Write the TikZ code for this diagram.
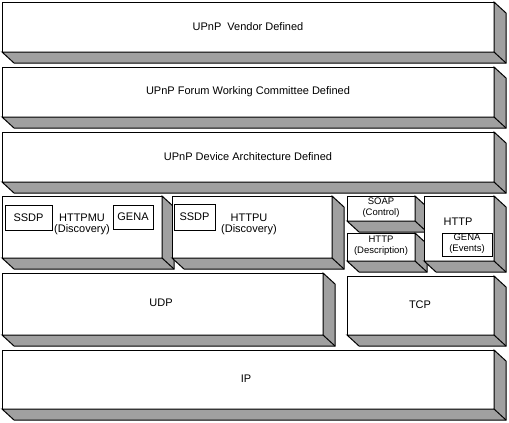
\documentclass[tikz,border=0pt]{standalone}
\usepackage{fontspec}
\setmainfont{Liberation Sans}
\usetikzlibrary{calc}
\definecolor{sidegray}{RGB}{160,160,160}
\tikzset{
  x=1pt, y=-1pt,
  front/.style={draw=black, fill=white, line width=1pt, inner sep=0pt, outer sep=0pt,
    rectangle, font=\fontsize{11}{11}\selectfont, align=center},
  side/.style={draw=black, fill=sidegray, line width=1pt, line join=miter},
  edge3d/.style={draw=black, line width=1pt},
  ibox/.style={draw=black, fill=white, line width=1pt, inner sep=0pt, outer sep=0pt,
    rectangle, font=\fontsize{11}{11}\selectfont, align=center},
  lbl/.style={font=\fontsize{11}{11}\selectfont, align=center, inner sep=0pt},
  small/.style={font=\fontsize{9.5}{11}\selectfont, align=center, inner sep=0pt}
}
% #1 name, #2 x1, #3 y1, #4 x2, #5 y2, #6 text
\newcommand\slab[6]{%
  \node[front, minimum width={(#4-#2)*1pt}, minimum height={(#5-#3)*1pt}] (#1)
    at ({(#2+#4)/2},{(#3+#5)/2}) {#6};
  \filldraw[side] (#1.north east) -- ($(#1.north east)+(12,11)$)
    -- ($(#1.south east)+(12,11)$) -- ($(#1.south west)+(12,11)$)
    -- (#1.south west) -- (#1.south east) -- cycle;
  \draw[edge3d] (#1.south east) -- ($(#1.south east)+(12,11)$);
}
% #1 name, #2 x1, #3 y1, #4 x2, #5 y2, #6 text
\newcommand\inbox[6]{%
  \node[ibox, minimum width={(#4-#2)*1pt}, minimum height={(#5-#3)*1pt}] (#1)
    at ({(#2+#4)/2},{(#3+#5)/2}) {#6};
}
\begin{document}
\begin{tikzpicture}
\useasboundingbox (0,0) rectangle (509,423);
\fill[white] (0,0) rectangle (509,423);

\slab{vendor}{2}{2}{494}{52}{UPnP\ \ Vendor Defined}
\slab{forum}{2}{67}{494}{117}{UPnP Forum Working Committee Defined}
\slab{devarch}{2}{132}{494}{182}{UPnP Device Architecture Defined}

\slab{httpmu}{2}{196}{162}{258}{}
\node[lbl] (httpmulbl) at (82,224) {HTTPMU\\(Discovery)};
\inbox{ssdpa}{5}{205}{52}{230}{SSDP}
\inbox{genaa}{113}{205}{153}{229}{GENA}

\slab{httpu}{172}{196}{332}{258}{}
\node[lbl] (httpulbl) at (249,224) {HTTPU\\(Discovery)};
\inbox{ssdpb}{174}{204}{215}{230}{SSDP}

\slab{soap}{347}{196}{415}{221}{}
\node[small] (soaplbl) at (381,207.5) {SOAP\\(Control)};
\slab{httpdesc}{347}{233}{415}{261}{}
\node[small] (httpdesclbl) at (381,245.5) {HTTP\\(Description)};

\slab{http}{424}{196}{494}{261}{}
\node[lbl] (httplbl) at (458,222) {HTTP};
\inbox{genab}{442}{233}{492}{256}{}
\node[small] (genablbl) at (467,243.5) {GENA\\(Events)};

\slab{udp}{2}{273}{323}{335}{}
\node[lbl] (udplbl) at (161,303) {UDP};
\slab{tcp}{347}{276}{494}{335}{}
\node[lbl] (tcplbl) at (420,305) {TCP};

\slab{ip}{2}{350}{494}{409}{}
\node[lbl] (iplbl) at (246,379) {IP};
\end{tikzpicture}
\end{document}
